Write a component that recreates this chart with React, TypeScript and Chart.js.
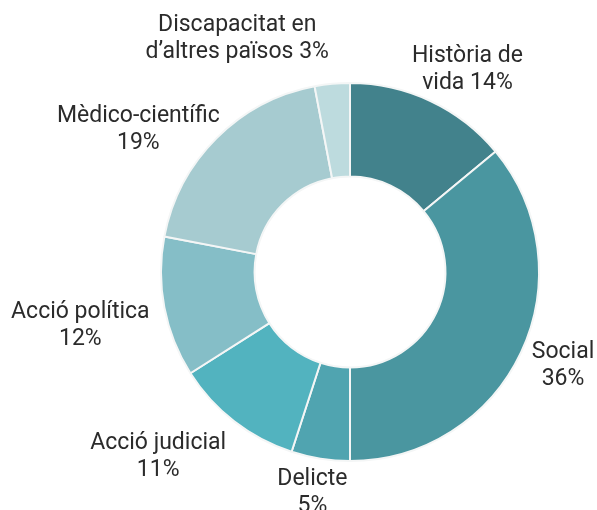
import React, { useEffect, useRef } from "react";
import { Chart, registerables } from "chart.js";

Chart.register(...registerables);

const categoryLines: string[][] = [
  ["Història de", "vida"],
  ["Social"],
  ["Delicte"],
  ["Acció judicial"],
  ["Acció política"],
  ["Mèdico-científic"],
  ["Discapacitat en", "d’altres països"],
];
const values: number[] = [14, 36, 5, 11, 12, 19, 3];
const pctInline: boolean[] = [true, false, false, false, false, false, true];
const colors: string[] = [
  "#42828C",
  "#4A96A0",
  "#50A4B0",
  "#52B3BF",
  "#85BEC7",
  "#A6CBD0",
  "#BDDBDE",
];
// label block offsets from the arc's outer mid-point (layout only)
const labelOffsets: [number, number][] = [
  [37, -31],
  [42, 13],
  [-8, 34],
  [-76, 35],
  [-84, 18],
  [-78, -9],
  [-95, -45],
];

const labelLines = categoryLines.map((lines, i) => {
  const out = lines.slice();
  if (pctInline[i]) out[out.length - 1] = `${out[out.length - 1]} ${values[i]}%`;
  else out.push(`${values[i]}%`);
  return out;
});

const outsideLabels = {
  id: "outsideLabels",
  afterDatasetsDraw(chart: any) {
    const ctx = chart.ctx;
    const meta = chart.getDatasetMeta(0);
    ctx.save();
    ctx.font = "400 23px Roboto";
    ctx.fillStyle = "#2B2B2B";
    ctx.textAlign = "center";
    ctx.textBaseline = "middle";
    const lh = 27;
    meta.data.forEach((arc: any, i: number) => {
      const p = arc.getProps(["x", "y", "startAngle", "endAngle", "outerRadius"], true);
      const mid = (p.startAngle + p.endAngle) / 2;
      const ax = p.x + Math.cos(mid) * p.outerRadius + labelOffsets[i][0];
      const ay = p.y + Math.sin(mid) * p.outerRadius + labelOffsets[i][1];
      const lines = labelLines[i];
      const top = ay - ((lines.length - 1) * lh) / 2;
      lines.forEach((t, k) => ctx.fillText(t, ax, top + k * lh));
    });
    ctx.restore();
  },
};

export default function App() {
  const ref = useRef<HTMLCanvasElement>(null);
  useEffect(() => {
    if (!ref.current) return;
    const chart = new Chart(ref.current, {
      type: "doughnut",
      data: {
        labels: categoryLines.map((l) => l.join(" ")),
        datasets: [
          {
            data: values,
            backgroundColor: colors,
            borderColor: "#F4F6F6",
            borderWidth: 2,
          },
        ],
      },
      options: {
        responsive: false,
        animation: false,
        cutout: "50.5%",
        layout: { padding: { left: 160, right: 57, top: 82, bottom: 48 } },
        plugins: { legend: { display: false }, tooltip: { enabled: false } },
      },
      plugins: [outsideLabels],
    });
    return () => chart.destroy();
  }, []);
  return (
    <div style={{ position: "fixed", left: 0, top: 0, width: 597, height: 510, background: "#fff" }}>
      <canvas ref={ref} width={597} height={510} />
    </div>
  );
}
